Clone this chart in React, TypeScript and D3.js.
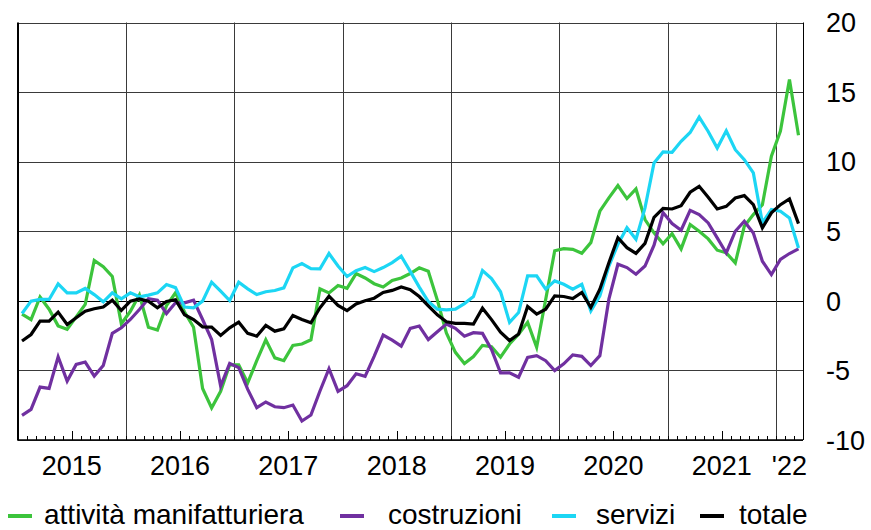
import * as d3 from "d3";

// monthly data, Jan 2015 - Mar 2022
const manifattura = [
  -0.95, -1.35, 0.28, -0.6, -1.8, -2.05, -1.15, -0.25, 2.9, 2.45, 1.75, -1.65,
  -0.75, 0.43, -1.9, -2.1, -0.35, 0.58, -0.8, -1.9, -6.3, -7.7, -6.5, -4.6,
  -4.6, -5.9, -4.3, -2.8, -4.1, -4.3, -3.2, -3.1, -2.8, 0.86, 0.57, 1.1,
  0.9, 1.96, 1.64, 1.23, 0.99, 1.47, 1.64, 1.96, 2.37, 2.13, 0.05, -2.3,
  -3.7, -4.5, -4.0, -3.2, -3.3, -4.05, -3.1, -2.4, -1.55, -3.34, 0.1, 3.6,
  3.75, 3.7, 3.42, 4.18, 6.44, 7.4, 8.28, 7.35, 8.04, 5.84, 4.89, 4.1,
  4.83, 3.73, 5.48, 5.0, 4.45, 3.64, 3.45, 2.73, 5.36, 6.2, 6.9, 10.4,
  12.2, 15.9, 11.9,
];

const costruzioni = [
  -8.23, -7.8, -6.2, -6.29, -4.02, -5.77, -4.57, -4.4, -5.41, -4.64, -2.34, -1.94,
  -1.34, -0.62, 0.15, 0.05, -0.91, -0.14, -0.14, 0.05, -1.34, -2.78, -6.12, -4.5,
  -4.8, -6.36, -7.68, -7.27, -7.61, -7.68, -7.49, -8.64, -8.2, -6.48, -4.88, -6.5,
  -6.1, -5.24, -5.43, -3.99, -2.46, -2.83, -3.26, -1.98, -1.81, -2.78, -2.22, -1.67,
  -1.98, -2.54, -2.29, -2.34, -3.5, -5.18, -5.18, -5.49, -4.06, -3.94, -4.3, -5.01,
  -4.53, -3.89, -3.99, -4.65, -3.94, 0.12, 2.63, 2.39, 1.91, 2.5, 4.0, 6.34,
  5.55, 5.07, 6.5, 6.2, 5.6, 4.52, 3.44, 5.0, 5.72, 4.88, 2.85, 1.89,
  2.97, 3.4, 3.73,
];

const servizi = [
  -0.91, -0.02, 0.1, 0.1, 1.22, 0.57, 0.57, 0.89, 0.45, -0.07, 0.57, 0.14,
  0.57, 0.29, 0.41, 0.57, 1.17, 0.95, -0.45, -0.5, -0.02, 1.34, 0.69, 0.02,
  1.34, 0.86, 0.45, 0.65, 0.74, 0.93, 2.37, 2.68, 2.32, 2.3, 3.4, 2.5,
  1.75, 2.17, 2.39, 2.1, 2.39, 2.75, 3.21, 2.12, 0.99, -0.05, -0.6, -0.65,
  -0.6, -0.2, 0.31, 2.17, 1.6, 0.65, -1.55, -0.84, 1.79, 1.79, 0.84, 1.43,
  1.19, 0.84, 1.19, -0.72, 0.36, 2.5, 4.06, 5.25, 4.42, 6.68, 9.9, 10.7,
  10.67, 11.46, 12.1, 13.2, 12.17, 10.98, 12.22, 10.86, 10.14, 9.19, 5.6, 6.56,
  6.44, 5.96, 3.8,
];

const totale = [
  -2.89, -2.42, -1.46, -1.46, -0.81, -1.7, -1.22, -0.74, -0.57, -0.45, 0.05, -0.69,
  -0.02, 0.14, -0.02, -0.5, -0.05, 0.08, -1.0, -1.34, -1.87, -1.89, -2.49, -1.94,
  -1.53, -2.34, -2.54, -1.77, -2.18, -2.01, -1.05, -1.34, -1.58, -0.5, 0.33, -0.33,
  -0.7, -0.22, 0, 0.19, 0.6, 0.75, 0.99, 0.8, 0.31, -0.36, -1.01, -1.5,
  -1.62, -1.62, -1.67, -0.53, -1.35, -2.25, -2.86, -2.39, -0.41, -0.95, -0.6, 0.36,
  0.31, 0.17, 0.6, -0.48, 0.84, 2.74, 4.53, 3.82, 3.41, 4.13, 6.0, 6.64,
  6.6, 6.84, 7.8, 8.23, 7.44, 6.6, 6.79, 7.39, 7.56, 6.91, 5.24, 6.32,
  6.91, 7.32, 5.55,
];

const yearLabels = ["2015", "2016", "2017", "2018", "2019", "2020", "2021", "'22"];
const yTicks = [20, 15, 10, 5, 0, -5, -10];

const series = [
  { name: "attività manifatturiera", values: manifattura, color: "#3cc43c" },
  { name: "costruzioni", values: costruzioni, color: "#7030a0" },
  { name: "servizi", values: servizi, color: "#1cd6f4" },
  { name: "totale", values: totale, color: "#000000" },
];

const W = 871;
const H = 530;
const nMonths = manifattura.length;
const FONT = "'Liberation Sans', Arial, sans-serif";

export default function App() {
  const x = d3.scaleLinear().domain([0, nMonths]).range([17.5, 803]);
  const y = d3.scaleLinear().domain([-10, 20]).range([440, 22.5]);

  const line = d3
    .line<number>()
    .x((_, i) => x(i + 0.5))
    .y((d) => y(d));

  const yearBounds = d3.range(12, nMonths, 12);
  const monthTicks = d3.range(1, nMonths);

  // legend layout (swatch x, text x)
  const legendPos = [
    { sx: 8, tx: 44 },
    { sx: 340, tx: 388 },
    { sx: 552, tx: 596 },
    { sx: 700, tx: 739 },
  ];

  return (
    <svg
      width={W}
      height={H}
      style={{ position: "absolute", left: 0, top: 0, background: "#fff" }}
      fontFamily={FONT}
    >
      <rect width={W} height={H} fill="#fff" />

      {/* horizontal grid */}
      {yTicks.map((t) => (
        <line
          key={"h" + t}
          x1={x(0)}
          x2={x(nMonths)}
          y1={Math.round(y(t)) + 0.5}
          y2={Math.round(y(t)) + 0.5}
          stroke={t === 0 ? "#000" : "#3a3a3a"}
          strokeWidth={1}
        />
      ))}

      {/* vertical grid at year boundaries */}
      {yearBounds.map((m) => (
        <line
          key={"v" + m}
          x1={Math.round(x(m)) + 0.5}
          x2={Math.round(x(m)) + 0.5}
          y1={y(20)}
          y2={y(-10)}
          stroke="#3a3a3a"
          strokeWidth={1}
        />
      ))}

      {/* month ticks */}
      {monthTicks.map((m) => (
        <line
          key={"t" + m}
          x1={Math.round(x(m)) + 0.5}
          x2={Math.round(x(m)) + 0.5}
          y1={y(-10)}
          y2={y(-10) - (m % 12 === 6 ? 9 : 4)}
          stroke="#000"
          strokeWidth={1}
        />
      ))}

      {/* frame */}
      <line x1={x(nMonths) + 0.5} x2={x(nMonths) + 0.5} y1={y(20)} y2={y(-10)} stroke="#000" />
      <line x1={x(0)} x2={x(nMonths)} y1={y(-10)} y2={y(-10)} stroke="#000" strokeWidth={1.5} />
      <line x1={18} x2={18} y1={y(20)} y2={y(-10)} stroke="#000" strokeWidth={2} />

      {/* series */}
      {series.map((s) => (
        <path
          key={s.name}
          d={line(s.values) || ""}
          fill="none"
          stroke={s.color}
          strokeWidth={3.2}
          strokeLinejoin="miter"
        />
      ))}

      {/* y labels (right) */}
      {yTicks.map((t) => (
        <text key={"yl" + t} x={826} y={y(t)} dy="0.36em" fontSize={27} fill="#000">
          {t}
        </text>
      ))}

      {/* x labels */}
      {yearLabels.map((lab, i) => {
        const start = i * 12;
        const end = Math.min(start + 12, nMonths);
        return (
          <text
            key={lab}
            x={x((start + end) / 2)}
            y={475}
            textAnchor="middle"
            fontSize={27}
            fill="#000"
          >
            {lab}
          </text>
        );
      })}

      {/* legend */}
      {series.map((s, i) => (
        <g key={"lg" + s.name}>
          <line
            x1={legendPos[i].sx}
            x2={legendPos[i].sx + 24}
            y1={516}
            y2={516}
            stroke={s.color}
            strokeWidth={4}
          />
          <text x={legendPos[i].tx} y={524} fontSize={28} fill="#000">
            {s.name}
          </text>
        </g>
      ))}
    </svg>
  );
}
